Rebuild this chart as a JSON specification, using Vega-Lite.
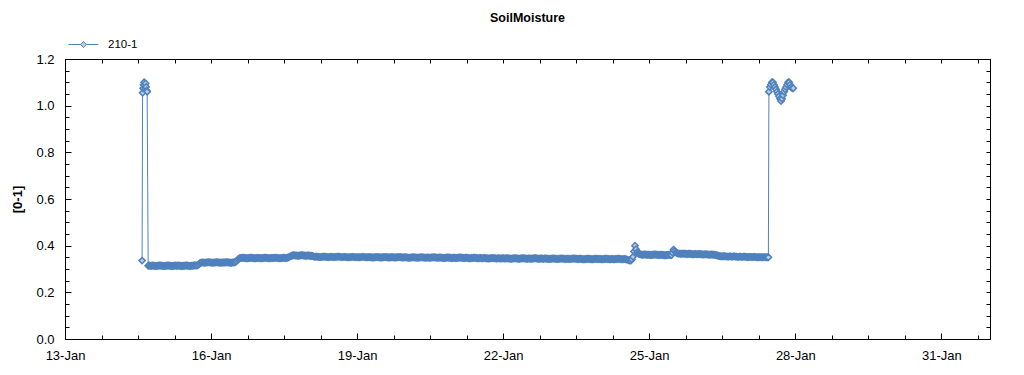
{
  "$schema": "https://vega.github.io/schema/vega-lite/v6.json",
  "width": 925,
  "height": 280,
  "autosize": {"type": "none"},
  "padding": {"left": 65, "top": 59, "right": 34, "bottom": 36},
  "background": "white",
  "title": {"text": "SoilMoisture", "font": "Liberation Sans", "fontSize": 12.5, "fontWeight": "bold", "color": "#000", "anchor": "middle", "frame": "group", "offset": 5},
  "config": {
    "view": {"stroke": "#000", "strokeWidth": 1},
    "axis": {"domainColor": "#000", "tickColor": "#000", "grid": false, "labelFont": "Liberation Sans", "labelFontSize": 13, "labelColor": "#000", "labelOverlap": false, "labelFlush": false}
  },
  "data": {"values": [
    {"t":"2020-01-14T14:00","v":0.336},
    {"t":"2020-01-14T14:15","v":1.055},{"t":"2020-01-14T14:30","v":1.075},{"t":"2020-01-14T14:45","v":1.09},{"t":"2020-01-14T15:00","v":1.10},{"t":"2020-01-14T15:15","v":1.085},{"t":"2020-01-14T15:30","v":1.07},{"t":"2020-01-14T15:45","v":1.095},{"t":"2020-01-14T16:00","v":1.08},{"t":"2020-01-14T16:15","v":1.065},{"t":"2020-01-14T16:30","v":1.06},
    {"t":"2020-01-14T17:00","v":0.314},{"t":"2020-01-14T17:30","v":0.315},{"t":"2020-01-14T18:00","v":0.313},{"t":"2020-01-14T18:30","v":0.314},{"t":"2020-01-14T19:00","v":0.315},{"t":"2020-01-14T19:30","v":0.314},{"t":"2020-01-14T20:00","v":0.314},{"t":"2020-01-14T20:30","v":0.313},{"t":"2020-01-14T21:00","v":0.313},{"t":"2020-01-14T21:30","v":0.314},{"t":"2020-01-14T22:00","v":0.314},{"t":"2020-01-14T22:30","v":0.315},{"t":"2020-01-14T23:00","v":0.315},{"t":"2020-01-14T23:30","v":0.314},
    {"t":"2020-01-15T00:00","v":0.314},{"t":"2020-01-15T00:30","v":0.313},{"t":"2020-01-15T01:00","v":0.313},{"t":"2020-01-15T01:30","v":0.314},{"t":"2020-01-15T02:00","v":0.314},{"t":"2020-01-15T02:30","v":0.315},{"t":"2020-01-15T03:00","v":0.315},{"t":"2020-01-15T03:30","v":0.314},{"t":"2020-01-15T04:00","v":0.314},{"t":"2020-01-15T04:30","v":0.313},{"t":"2020-01-15T05:00","v":0.313},{"t":"2020-01-15T05:30","v":0.314},{"t":"2020-01-15T06:00","v":0.314},{"t":"2020-01-15T06:30","v":0.315},{"t":"2020-01-15T07:00","v":0.314},{"t":"2020-01-15T07:30","v":0.314},{"t":"2020-01-15T08:00","v":0.315},{"t":"2020-01-15T08:30","v":0.314},{"t":"2020-01-15T09:00","v":0.314},{"t":"2020-01-15T09:30","v":0.313},{"t":"2020-01-15T10:00","v":0.313},{"t":"2020-01-15T10:30","v":0.314},{"t":"2020-01-15T11:00","v":0.314},{"t":"2020-01-15T11:30","v":0.315},{"t":"2020-01-15T12:00","v":0.315},{"t":"2020-01-15T12:30","v":0.314},{"t":"2020-01-15T13:00","v":0.314},{"t":"2020-01-15T13:30","v":0.313},{"t":"2020-01-15T14:00","v":0.313},{"t":"2020-01-15T14:30","v":0.314},{"t":"2020-01-15T15:00","v":0.314},{"t":"2020-01-15T15:30","v":0.315},{"t":"2020-01-15T16:00","v":0.316},{"t":"2020-01-15T16:30","v":0.315},{"t":"2020-01-15T17:00","v":0.315},{"t":"2020-01-15T17:30","v":0.316},{"t":"2020-01-15T18:00","v":0.320},{"t":"2020-01-15T18:30","v":0.325},{"t":"2020-01-15T19:00","v":0.327},{"t":"2020-01-15T19:30","v":0.328},{"t":"2020-01-15T20:00","v":0.328},{"t":"2020-01-15T20:30","v":0.327},{"t":"2020-01-15T21:00","v":0.327},{"t":"2020-01-15T21:30","v":0.328},{"t":"2020-01-15T22:00","v":0.328},{"t":"2020-01-15T22:30","v":0.329},{"t":"2020-01-15T23:00","v":0.329},{"t":"2020-01-15T23:30","v":0.328},
    {"t":"2020-01-16T00:00","v":0.328},{"t":"2020-01-16T00:30","v":0.327},{"t":"2020-01-16T01:00","v":0.327},{"t":"2020-01-16T01:30","v":0.328},{"t":"2020-01-16T02:00","v":0.328},{"t":"2020-01-16T02:30","v":0.329},{"t":"2020-01-16T03:00","v":0.329},{"t":"2020-01-16T03:30","v":0.328},{"t":"2020-01-16T04:00","v":0.328},{"t":"2020-01-16T04:30","v":0.327},{"t":"2020-01-16T05:00","v":0.327},{"t":"2020-01-16T05:30","v":0.328},{"t":"2020-01-16T06:00","v":0.328},{"t":"2020-01-16T06:30","v":0.328},{"t":"2020-01-16T07:00","v":0.328},{"t":"2020-01-16T07:30","v":0.329},{"t":"2020-01-16T08:00","v":0.329},{"t":"2020-01-16T08:30","v":0.328},{"t":"2020-01-16T09:00","v":0.328},{"t":"2020-01-16T09:30","v":0.327},{"t":"2020-01-16T10:00","v":0.327},{"t":"2020-01-16T10:30","v":0.328},{"t":"2020-01-16T11:00","v":0.328},{"t":"2020-01-16T11:30","v":0.329},{"t":"2020-01-16T12:00","v":0.330},{"t":"2020-01-16T12:30","v":0.333},{"t":"2020-01-16T13:00","v":0.338},{"t":"2020-01-16T13:30","v":0.343},{"t":"2020-01-16T14:00","v":0.346},{"t":"2020-01-16T14:30","v":0.347},{"t":"2020-01-16T15:00","v":0.347},{"t":"2020-01-16T15:30","v":0.348},{"t":"2020-01-16T16:00","v":0.348},{"t":"2020-01-16T16:30","v":0.347},{"t":"2020-01-16T17:00","v":0.347},{"t":"2020-01-16T17:30","v":0.346},{"t":"2020-01-16T18:00","v":0.346},{"t":"2020-01-16T18:30","v":0.347},{"t":"2020-01-16T19:00","v":0.347},{"t":"2020-01-16T19:30","v":0.348},{"t":"2020-01-16T20:00","v":0.348},{"t":"2020-01-16T20:30","v":0.347},{"t":"2020-01-16T21:00","v":0.347},{"t":"2020-01-16T21:30","v":0.346},{"t":"2020-01-16T22:00","v":0.346},{"t":"2020-01-16T22:30","v":0.347},{"t":"2020-01-16T23:00","v":0.347},{"t":"2020-01-16T23:30","v":0.347},
    {"t":"2020-01-17T00:00","v":0.347},{"t":"2020-01-17T00:30","v":0.346},{"t":"2020-01-17T01:00","v":0.346},{"t":"2020-01-17T01:30","v":0.347},{"t":"2020-01-17T02:00","v":0.347},{"t":"2020-01-17T02:30","v":0.348},{"t":"2020-01-17T03:00","v":0.348},{"t":"2020-01-17T03:30","v":0.347},{"t":"2020-01-17T04:00","v":0.347},{"t":"2020-01-17T04:30","v":0.346},{"t":"2020-01-17T05:00","v":0.346},{"t":"2020-01-17T05:30","v":0.347},{"t":"2020-01-17T06:00","v":0.347},{"t":"2020-01-17T06:30","v":0.347},{"t":"2020-01-17T07:00","v":0.347},{"t":"2020-01-17T07:30","v":0.348},{"t":"2020-01-17T08:00","v":0.348},{"t":"2020-01-17T08:30","v":0.347},{"t":"2020-01-17T09:00","v":0.347},{"t":"2020-01-17T09:30","v":0.346},{"t":"2020-01-17T10:00","v":0.346},{"t":"2020-01-17T10:30","v":0.347},{"t":"2020-01-17T11:00","v":0.347},{"t":"2020-01-17T11:30","v":0.348},{"t":"2020-01-17T12:00","v":0.348},{"t":"2020-01-17T12:30","v":0.347},{"t":"2020-01-17T13:00","v":0.347},{"t":"2020-01-17T13:30","v":0.348},{"t":"2020-01-17T14:00","v":0.349},{"t":"2020-01-17T14:30","v":0.351},{"t":"2020-01-17T15:00","v":0.354},{"t":"2020-01-17T15:30","v":0.356},{"t":"2020-01-17T16:00","v":0.358},{"t":"2020-01-17T16:30","v":0.359},{"t":"2020-01-17T17:00","v":0.359},{"t":"2020-01-17T17:30","v":0.358},{"t":"2020-01-17T18:00","v":0.358},{"t":"2020-01-17T18:30","v":0.357},{"t":"2020-01-17T19:00","v":0.357},{"t":"2020-01-17T19:30","v":0.358},{"t":"2020-01-17T20:00","v":0.358},{"t":"2020-01-17T20:30","v":0.359},{"t":"2020-01-17T21:00","v":0.359},{"t":"2020-01-17T21:30","v":0.358},{"t":"2020-01-17T22:00","v":0.358},{"t":"2020-01-17T22:30","v":0.357},{"t":"2020-01-17T23:00","v":0.357},{"t":"2020-01-17T23:30","v":0.358},
    {"t":"2020-01-18T00:00","v":0.358},{"t":"2020-01-18T00:30","v":0.357},{"t":"2020-01-18T01:00","v":0.357},{"t":"2020-01-18T01:30","v":0.356},{"t":"2020-01-18T02:00","v":0.356},{"t":"2020-01-18T02:30","v":0.354},{"t":"2020-01-18T03:00","v":0.352},{"t":"2020-01-18T03:30","v":0.353},{"t":"2020-01-18T04:00","v":0.353},{"t":"2020-01-18T04:30","v":0.352},{"t":"2020-01-18T05:00","v":0.352},{"t":"2020-01-18T05:30","v":0.351},{"t":"2020-01-18T06:00","v":0.351},{"t":"2020-01-18T06:30","v":0.352},{"t":"2020-01-18T07:00","v":0.352},{"t":"2020-01-18T07:30","v":0.353},{"t":"2020-01-18T08:00","v":0.353},{"t":"2020-01-18T08:30","v":0.352},{"t":"2020-01-18T09:00","v":0.352},{"t":"2020-01-18T09:30","v":0.351},{"t":"2020-01-18T10:00","v":0.351},{"t":"2020-01-18T10:30","v":0.352},{"t":"2020-01-18T11:00","v":0.352},{"t":"2020-01-18T11:30","v":0.352},{"t":"2020-01-18T12:00","v":0.352},{"t":"2020-01-18T12:30","v":0.351},{"t":"2020-01-18T13:00","v":0.351},{"t":"2020-01-18T13:30","v":0.352},{"t":"2020-01-18T14:00","v":0.352},{"t":"2020-01-18T14:30","v":0.353},{"t":"2020-01-18T15:00","v":0.353},{"t":"2020-01-18T15:30","v":0.352},{"t":"2020-01-18T16:00","v":0.352},{"t":"2020-01-18T16:30","v":0.351},{"t":"2020-01-18T17:00","v":0.351},{"t":"2020-01-18T17:30","v":0.352},{"t":"2020-01-18T18:00","v":0.352},{"t":"2020-01-18T18:30","v":0.351},{"t":"2020-01-18T19:00","v":0.351},{"t":"2020-01-18T19:30","v":0.350},{"t":"2020-01-18T20:00","v":0.350},{"t":"2020-01-18T20:30","v":0.351},{"t":"2020-01-18T21:00","v":0.351},{"t":"2020-01-18T21:30","v":0.352},{"t":"2020-01-18T22:00","v":0.352},{"t":"2020-01-18T22:30","v":0.351},{"t":"2020-01-18T23:00","v":0.351},{"t":"2020-01-18T23:30","v":0.351},
    {"t":"2020-01-19T00:00","v":0.351},{"t":"2020-01-19T00:30","v":0.350},{"t":"2020-01-19T01:00","v":0.350},{"t":"2020-01-19T01:30","v":0.351},{"t":"2020-01-19T02:00","v":0.351},{"t":"2020-01-19T02:30","v":0.352},{"t":"2020-01-19T03:00","v":0.352},{"t":"2020-01-19T03:30","v":0.351},{"t":"2020-01-19T04:00","v":0.351},{"t":"2020-01-19T04:30","v":0.350},{"t":"2020-01-19T05:00","v":0.350},{"t":"2020-01-19T05:30","v":0.351},{"t":"2020-01-19T06:00","v":0.351},{"t":"2020-01-19T06:30","v":0.350},{"t":"2020-01-19T07:00","v":0.350},{"t":"2020-01-19T07:30","v":0.349},{"t":"2020-01-19T08:00","v":0.349},{"t":"2020-01-19T08:30","v":0.350},{"t":"2020-01-19T09:00","v":0.350},{"t":"2020-01-19T09:30","v":0.351},{"t":"2020-01-19T10:00","v":0.351},{"t":"2020-01-19T10:30","v":0.350},{"t":"2020-01-19T11:00","v":0.350},{"t":"2020-01-19T11:30","v":0.349},{"t":"2020-01-19T12:00","v":0.349},{"t":"2020-01-19T12:30","v":0.350},{"t":"2020-01-19T13:00","v":0.350},{"t":"2020-01-19T13:30","v":0.351},{"t":"2020-01-19T14:00","v":0.351},{"t":"2020-01-19T14:30","v":0.350},{"t":"2020-01-19T15:00","v":0.350},{"t":"2020-01-19T15:30","v":0.349},{"t":"2020-01-19T16:00","v":0.349},{"t":"2020-01-19T16:30","v":0.350},{"t":"2020-01-19T17:00","v":0.350},{"t":"2020-01-19T17:30","v":0.350},{"t":"2020-01-19T18:00","v":0.350},{"t":"2020-01-19T18:30","v":0.349},{"t":"2020-01-19T19:00","v":0.349},{"t":"2020-01-19T19:30","v":0.350},{"t":"2020-01-19T20:00","v":0.350},{"t":"2020-01-19T20:30","v":0.351},{"t":"2020-01-19T21:00","v":0.351},{"t":"2020-01-19T21:30","v":0.350},{"t":"2020-01-19T22:00","v":0.350},{"t":"2020-01-19T22:30","v":0.349},{"t":"2020-01-19T23:00","v":0.349},{"t":"2020-01-19T23:30","v":0.350},
    {"t":"2020-01-20T00:00","v":0.350},{"t":"2020-01-20T00:30","v":0.349},{"t":"2020-01-20T01:00","v":0.349},{"t":"2020-01-20T01:30","v":0.348},{"t":"2020-01-20T02:00","v":0.348},{"t":"2020-01-20T02:30","v":0.349},{"t":"2020-01-20T03:00","v":0.349},{"t":"2020-01-20T03:30","v":0.350},{"t":"2020-01-20T04:00","v":0.350},{"t":"2020-01-20T04:30","v":0.349},{"t":"2020-01-20T05:00","v":0.349},{"t":"2020-01-20T05:30","v":0.348},{"t":"2020-01-20T06:00","v":0.348},{"t":"2020-01-20T06:30","v":0.349},{"t":"2020-01-20T07:00","v":0.349},{"t":"2020-01-20T07:30","v":0.350},{"t":"2020-01-20T08:00","v":0.350},{"t":"2020-01-20T08:30","v":0.349},{"t":"2020-01-20T09:00","v":0.349},{"t":"2020-01-20T09:30","v":0.348},{"t":"2020-01-20T10:00","v":0.348},{"t":"2020-01-20T10:30","v":0.349},{"t":"2020-01-20T11:00","v":0.349},{"t":"2020-01-20T11:30","v":0.348},{"t":"2020-01-20T12:00","v":0.348},{"t":"2020-01-20T12:30","v":0.349},{"t":"2020-01-20T13:00","v":0.349},{"t":"2020-01-20T13:30","v":0.350},{"t":"2020-01-20T14:00","v":0.350},{"t":"2020-01-20T14:30","v":0.349},{"t":"2020-01-20T15:00","v":0.349},{"t":"2020-01-20T15:30","v":0.348},{"t":"2020-01-20T16:00","v":0.348},{"t":"2020-01-20T16:30","v":0.349},{"t":"2020-01-20T17:00","v":0.349},{"t":"2020-01-20T17:30","v":0.348},{"t":"2020-01-20T18:00","v":0.348},{"t":"2020-01-20T18:30","v":0.347},{"t":"2020-01-20T19:00","v":0.347},{"t":"2020-01-20T19:30","v":0.348},{"t":"2020-01-20T20:00","v":0.348},{"t":"2020-01-20T20:30","v":0.349},{"t":"2020-01-20T21:00","v":0.349},{"t":"2020-01-20T21:30","v":0.348},{"t":"2020-01-20T22:00","v":0.348},{"t":"2020-01-20T22:30","v":0.347},{"t":"2020-01-20T23:00","v":0.347},{"t":"2020-01-20T23:30","v":0.348},
    {"t":"2020-01-21T00:00","v":0.348},{"t":"2020-01-21T00:30","v":0.347},{"t":"2020-01-21T01:00","v":0.347},{"t":"2020-01-21T01:30","v":0.348},{"t":"2020-01-21T02:00","v":0.348},{"t":"2020-01-21T02:30","v":0.349},{"t":"2020-01-21T03:00","v":0.349},{"t":"2020-01-21T03:30","v":0.348},{"t":"2020-01-21T04:00","v":0.348},{"t":"2020-01-21T04:30","v":0.347},{"t":"2020-01-21T05:00","v":0.347},{"t":"2020-01-21T05:30","v":0.348},{"t":"2020-01-21T06:00","v":0.348},{"t":"2020-01-21T06:30","v":0.347},{"t":"2020-01-21T07:00","v":0.347},{"t":"2020-01-21T07:30","v":0.346},{"t":"2020-01-21T08:00","v":0.346},{"t":"2020-01-21T08:30","v":0.347},{"t":"2020-01-21T09:00","v":0.347},{"t":"2020-01-21T09:30","v":0.348},{"t":"2020-01-21T10:00","v":0.348},{"t":"2020-01-21T10:30","v":0.347},{"t":"2020-01-21T11:00","v":0.347},{"t":"2020-01-21T11:30","v":0.346},{"t":"2020-01-21T12:00","v":0.346},{"t":"2020-01-21T12:30","v":0.347},{"t":"2020-01-21T13:00","v":0.347},{"t":"2020-01-21T13:30","v":0.346},{"t":"2020-01-21T14:00","v":0.346},{"t":"2020-01-21T14:30","v":0.347},{"t":"2020-01-21T15:00","v":0.347},{"t":"2020-01-21T15:30","v":0.346},{"t":"2020-01-21T16:00","v":0.346},{"t":"2020-01-21T16:30","v":0.345},{"t":"2020-01-21T17:00","v":0.345},{"t":"2020-01-21T17:30","v":0.346},{"t":"2020-01-21T18:00","v":0.346},{"t":"2020-01-21T18:30","v":0.347},{"t":"2020-01-21T19:00","v":0.347},{"t":"2020-01-21T19:30","v":0.346},{"t":"2020-01-21T20:00","v":0.346},{"t":"2020-01-21T20:30","v":0.345},{"t":"2020-01-21T21:00","v":0.345},{"t":"2020-01-21T21:30","v":0.346},{"t":"2020-01-21T22:00","v":0.346},{"t":"2020-01-21T22:30","v":0.345},{"t":"2020-01-21T23:00","v":0.345},{"t":"2020-01-21T23:30","v":0.346},
    {"t":"2020-01-22T00:00","v":0.346},{"t":"2020-01-22T00:30","v":0.345},{"t":"2020-01-22T01:00","v":0.345},{"t":"2020-01-22T01:30","v":0.346},{"t":"2020-01-22T02:00","v":0.346},{"t":"2020-01-22T02:30","v":0.345},{"t":"2020-01-22T03:00","v":0.345},{"t":"2020-01-22T03:30","v":0.344},{"t":"2020-01-22T04:00","v":0.344},{"t":"2020-01-22T04:30","v":0.345},{"t":"2020-01-22T05:00","v":0.345},{"t":"2020-01-22T05:30","v":0.346},{"t":"2020-01-22T06:00","v":0.346},{"t":"2020-01-22T06:30","v":0.345},{"t":"2020-01-22T07:00","v":0.345},{"t":"2020-01-22T07:30","v":0.344},{"t":"2020-01-22T08:00","v":0.344},{"t":"2020-01-22T08:30","v":0.345},{"t":"2020-01-22T09:00","v":0.345},{"t":"2020-01-22T09:30","v":0.346},{"t":"2020-01-22T10:00","v":0.346},{"t":"2020-01-22T10:30","v":0.345},{"t":"2020-01-22T11:00","v":0.345},{"t":"2020-01-22T11:30","v":0.344},{"t":"2020-01-22T12:00","v":0.344},{"t":"2020-01-22T12:30","v":0.345},{"t":"2020-01-22T13:00","v":0.345},{"t":"2020-01-22T13:30","v":0.344},{"t":"2020-01-22T14:00","v":0.344},{"t":"2020-01-22T14:30","v":0.345},{"t":"2020-01-22T15:00","v":0.345},{"t":"2020-01-22T15:30","v":0.346},{"t":"2020-01-22T16:00","v":0.346},{"t":"2020-01-22T16:30","v":0.345},{"t":"2020-01-22T17:00","v":0.345},{"t":"2020-01-22T17:30","v":0.344},{"t":"2020-01-22T18:00","v":0.344},{"t":"2020-01-22T18:30","v":0.345},{"t":"2020-01-22T19:00","v":0.345},{"t":"2020-01-22T19:30","v":0.344},{"t":"2020-01-22T20:00","v":0.344},{"t":"2020-01-22T20:30","v":0.345},{"t":"2020-01-22T21:00","v":0.345},{"t":"2020-01-22T21:30","v":0.344},{"t":"2020-01-22T22:00","v":0.344},{"t":"2020-01-22T22:30","v":0.343},{"t":"2020-01-22T23:00","v":0.343},{"t":"2020-01-22T23:30","v":0.344},
    {"t":"2020-01-23T00:00","v":0.344},{"t":"2020-01-23T00:30","v":0.345},{"t":"2020-01-23T01:00","v":0.345},{"t":"2020-01-23T01:30","v":0.344},{"t":"2020-01-23T02:00","v":0.344},{"t":"2020-01-23T02:30","v":0.343},{"t":"2020-01-23T03:00","v":0.343},{"t":"2020-01-23T03:30","v":0.344},{"t":"2020-01-23T04:00","v":0.344},{"t":"2020-01-23T04:30","v":0.345},{"t":"2020-01-23T05:00","v":0.345},{"t":"2020-01-23T05:30","v":0.344},{"t":"2020-01-23T06:00","v":0.344},{"t":"2020-01-23T06:30","v":0.343},{"t":"2020-01-23T07:00","v":0.343},{"t":"2020-01-23T07:30","v":0.344},{"t":"2020-01-23T08:00","v":0.344},{"t":"2020-01-23T08:30","v":0.343},{"t":"2020-01-23T09:00","v":0.343},{"t":"2020-01-23T09:30","v":0.344},{"t":"2020-01-23T10:00","v":0.344},{"t":"2020-01-23T10:30","v":0.345},{"t":"2020-01-23T11:00","v":0.345},{"t":"2020-01-23T11:30","v":0.344},{"t":"2020-01-23T12:00","v":0.344},{"t":"2020-01-23T12:30","v":0.343},{"t":"2020-01-23T13:00","v":0.343},{"t":"2020-01-23T13:30","v":0.344},{"t":"2020-01-23T14:00","v":0.344},{"t":"2020-01-23T14:30","v":0.343},{"t":"2020-01-23T15:00","v":0.343},{"t":"2020-01-23T15:30","v":0.342},{"t":"2020-01-23T16:00","v":0.342},{"t":"2020-01-23T16:30","v":0.343},{"t":"2020-01-23T17:00","v":0.343},{"t":"2020-01-23T17:30","v":0.344},{"t":"2020-01-23T18:00","v":0.344},{"t":"2020-01-23T18:30","v":0.343},{"t":"2020-01-23T19:00","v":0.343},{"t":"2020-01-23T19:30","v":0.342},{"t":"2020-01-23T20:00","v":0.342},{"t":"2020-01-23T20:30","v":0.343},{"t":"2020-01-23T21:00","v":0.343},{"t":"2020-01-23T21:30","v":0.344},{"t":"2020-01-23T22:00","v":0.344},{"t":"2020-01-23T22:30","v":0.343},{"t":"2020-01-23T23:00","v":0.343},{"t":"2020-01-23T23:30","v":0.343},
    {"t":"2020-01-24T00:00","v":0.343},{"t":"2020-01-24T00:30","v":0.342},{"t":"2020-01-24T01:00","v":0.342},{"t":"2020-01-24T01:30","v":0.343},{"t":"2020-01-24T02:00","v":0.343},{"t":"2020-01-24T02:30","v":0.344},{"t":"2020-01-24T03:00","v":0.344},{"t":"2020-01-24T03:30","v":0.343},{"t":"2020-01-24T04:00","v":0.343},{"t":"2020-01-24T04:30","v":0.342},{"t":"2020-01-24T05:00","v":0.342},{"t":"2020-01-24T05:30","v":0.343},{"t":"2020-01-24T06:00","v":0.343},{"t":"2020-01-24T06:30","v":0.342},{"t":"2020-01-24T07:00","v":0.342},{"t":"2020-01-24T07:30","v":0.343},{"t":"2020-01-24T08:00","v":0.343},{"t":"2020-01-24T08:30","v":0.344},{"t":"2020-01-24T09:00","v":0.344},{"t":"2020-01-24T09:30","v":0.343},{"t":"2020-01-24T10:00","v":0.343},{"t":"2020-01-24T10:30","v":0.342},{"t":"2020-01-24T11:00","v":0.342},{"t":"2020-01-24T11:30","v":0.343},{"t":"2020-01-24T12:00","v":0.343},{"t":"2020-01-24T12:30","v":0.342},{"t":"2020-01-24T13:00","v":0.341},{"t":"2020-01-24T13:30","v":0.339},{"t":"2020-01-24T14:00","v":0.337},{"t":"2020-01-24T14:30","v":0.336},{"t":"2020-01-24T15:00","v":0.336},{"t":"2020-01-24T15:30","v":0.342},{"t":"2020-01-24T16:00","v":0.352},{"t":"2020-01-24T16:30","v":0.375},{"t":"2020-01-24T17:00","v":0.400},{"t":"2020-01-24T17:30","v":0.385},{"t":"2020-01-24T18:00","v":0.372},{"t":"2020-01-24T18:30","v":0.367},{"t":"2020-01-24T19:00","v":0.364},{"t":"2020-01-24T19:30","v":0.363},{"t":"2020-01-24T20:00","v":0.362},{"t":"2020-01-24T20:30","v":0.361},{"t":"2020-01-24T21:00","v":0.361},{"t":"2020-01-24T21:30","v":0.362},{"t":"2020-01-24T22:00","v":0.362},{"t":"2020-01-24T22:30","v":0.361},{"t":"2020-01-24T23:00","v":0.361},{"t":"2020-01-24T23:30","v":0.361},
    {"t":"2020-01-25T00:00","v":0.361},{"t":"2020-01-25T00:30","v":0.360},{"t":"2020-01-25T01:00","v":0.360},{"t":"2020-01-25T01:30","v":0.361},{"t":"2020-01-25T02:00","v":0.361},{"t":"2020-01-25T02:30","v":0.362},{"t":"2020-01-25T03:00","v":0.362},{"t":"2020-01-25T03:30","v":0.361},{"t":"2020-01-25T04:00","v":0.361},{"t":"2020-01-25T04:30","v":0.360},{"t":"2020-01-25T05:00","v":0.360},{"t":"2020-01-25T05:30","v":0.361},{"t":"2020-01-25T06:00","v":0.361},{"t":"2020-01-25T06:30","v":0.360},{"t":"2020-01-25T07:00","v":0.360},{"t":"2020-01-25T07:30","v":0.359},{"t":"2020-01-25T08:00","v":0.359},{"t":"2020-01-25T08:30","v":0.360},{"t":"2020-01-25T09:00","v":0.360},{"t":"2020-01-25T09:30","v":0.361},{"t":"2020-01-25T10:00","v":0.361},{"t":"2020-01-25T10:30","v":0.360},{"t":"2020-01-25T11:00","v":0.360},{"t":"2020-01-25T11:30","v":0.370},{"t":"2020-01-25T12:00","v":0.383},{"t":"2020-01-25T12:30","v":0.378},{"t":"2020-01-25T13:00","v":0.372},{"t":"2020-01-25T13:30","v":0.369},{"t":"2020-01-25T14:00","v":0.367},{"t":"2020-01-25T14:30","v":0.366},{"t":"2020-01-25T15:00","v":0.366},{"t":"2020-01-25T15:30","v":0.365},{"t":"2020-01-25T16:00","v":0.365},{"t":"2020-01-25T16:30","v":0.366},{"t":"2020-01-25T17:00","v":0.366},{"t":"2020-01-25T17:30","v":0.365},{"t":"2020-01-25T18:00","v":0.365},{"t":"2020-01-25T18:30","v":0.364},{"t":"2020-01-25T19:00","v":0.364},{"t":"2020-01-25T19:30","v":0.365},{"t":"2020-01-25T20:00","v":0.365},{"t":"2020-01-25T20:30","v":0.364},{"t":"2020-01-25T21:00","v":0.364},{"t":"2020-01-25T21:30","v":0.363},{"t":"2020-01-25T22:00","v":0.363},{"t":"2020-01-25T22:30","v":0.364},{"t":"2020-01-25T23:00","v":0.364},{"t":"2020-01-25T23:30","v":0.363},
    {"t":"2020-01-26T00:00","v":0.363},{"t":"2020-01-26T00:30","v":0.364},{"t":"2020-01-26T01:00","v":0.364},{"t":"2020-01-26T01:30","v":0.363},{"t":"2020-01-26T02:00","v":0.363},{"t":"2020-01-26T02:30","v":0.362},{"t":"2020-01-26T03:00","v":0.362},{"t":"2020-01-26T03:30","v":0.363},{"t":"2020-01-26T04:00","v":0.363},{"t":"2020-01-26T04:30","v":0.362},{"t":"2020-01-26T05:00","v":0.362},{"t":"2020-01-26T05:30","v":0.361},{"t":"2020-01-26T06:00","v":0.361},{"t":"2020-01-26T06:30","v":0.362},{"t":"2020-01-26T07:00","v":0.362},{"t":"2020-01-26T07:30","v":0.361},{"t":"2020-01-26T08:00","v":0.361},{"t":"2020-01-26T08:30","v":0.360},{"t":"2020-01-26T09:00","v":0.360},{"t":"2020-01-26T09:30","v":0.358},{"t":"2020-01-26T10:00","v":0.357},{"t":"2020-01-26T10:30","v":0.356},{"t":"2020-01-26T11:00","v":0.355},{"t":"2020-01-26T11:30","v":0.354},{"t":"2020-01-26T12:00","v":0.354},{"t":"2020-01-26T12:30","v":0.355},{"t":"2020-01-26T13:00","v":0.355},{"t":"2020-01-26T13:30","v":0.354},{"t":"2020-01-26T14:00","v":0.354},{"t":"2020-01-26T14:30","v":0.353},{"t":"2020-01-26T15:00","v":0.353},{"t":"2020-01-26T15:30","v":0.354},{"t":"2020-01-26T16:00","v":0.354},{"t":"2020-01-26T16:30","v":0.353},{"t":"2020-01-26T17:00","v":0.353},{"t":"2020-01-26T17:30","v":0.354},{"t":"2020-01-26T18:00","v":0.354},{"t":"2020-01-26T18:30","v":0.353},{"t":"2020-01-26T19:00","v":0.353},{"t":"2020-01-26T19:30","v":0.352},{"t":"2020-01-26T20:00","v":0.352},{"t":"2020-01-26T20:30","v":0.353},{"t":"2020-01-26T21:00","v":0.353},{"t":"2020-01-26T21:30","v":0.352},{"t":"2020-01-26T22:00","v":0.352},{"t":"2020-01-26T22:30","v":0.353},{"t":"2020-01-26T23:00","v":0.353},{"t":"2020-01-26T23:30","v":0.352},
    {"t":"2020-01-27T00:00","v":0.352},{"t":"2020-01-27T00:30","v":0.351},{"t":"2020-01-27T01:00","v":0.351},{"t":"2020-01-27T01:30","v":0.352},{"t":"2020-01-27T02:00","v":0.352},{"t":"2020-01-27T02:30","v":0.351},{"t":"2020-01-27T03:00","v":0.351},{"t":"2020-01-27T03:30","v":0.352},{"t":"2020-01-27T04:00","v":0.352},{"t":"2020-01-27T04:30","v":0.351},{"t":"2020-01-27T05:00","v":0.351},{"t":"2020-01-27T05:30","v":0.350},{"t":"2020-01-27T06:00","v":0.350},{"t":"2020-01-27T06:30","v":0.351},{"t":"2020-01-27T07:00","v":0.351},{"t":"2020-01-27T07:30","v":0.350},{"t":"2020-01-27T08:00","v":0.350},{"t":"2020-01-27T08:30","v":0.351},{"t":"2020-01-27T09:00","v":0.351},{"t":"2020-01-27T09:30","v":0.350},{"t":"2020-01-27T10:00","v":0.350},{"t":"2020-01-27T10:30","v":0.350},{"t":"2020-01-27T10:45","v":0.350},
    {"t":"2020-01-27T11:00","v":1.06},{"t":"2020-01-27T11:30","v":1.08},{"t":"2020-01-27T12:00","v":1.09},{"t":"2020-01-27T12:30","v":1.10},{"t":"2020-01-27T13:00","v":1.10},{"t":"2020-01-27T13:30","v":1.09},{"t":"2020-01-27T14:00","v":1.08},{"t":"2020-01-27T14:30","v":1.07},{"t":"2020-01-27T15:00","v":1.06},{"t":"2020-01-27T15:30","v":1.05},{"t":"2020-01-27T16:00","v":1.04},{"t":"2020-01-27T16:30","v":1.03},{"t":"2020-01-27T17:00","v":1.02},{"t":"2020-01-27T17:30","v":1.03},{"t":"2020-01-27T18:00","v":1.045},{"t":"2020-01-27T18:30","v":1.06},{"t":"2020-01-27T19:00","v":1.07},{"t":"2020-01-27T19:30","v":1.08},{"t":"2020-01-27T20:00","v":1.09},{"t":"2020-01-27T20:30","v":1.10},{"t":"2020-01-27T21:00","v":1.10},{"t":"2020-01-27T21:30","v":1.09},{"t":"2020-01-27T22:00","v":1.08},{"t":"2020-01-27T22:30","v":1.075},{"t":"2020-01-27T23:00","v":1.075}
  ]},
  "layer": [
    {
      "mark": {"type": "line", "strokeWidth": 1, "interpolate": "linear"},
      "encoding": {
        "x": {"field": "t", "type": "temporal",
          "scale": {"domain": [{"year": 2020, "month": "jan", "date": 13}, {"year": 2020, "month": "feb", "date": 1}]},
          "axis": {"orient": "bottom", "title": null,
            "values": [
              {"year":2020,"month":"jan","date":13,"hours":0},{"year":2020,"month":"jan","date":13,"hours":18},{"year":2020,"month":"jan","date":14,"hours":12},{"year":2020,"month":"jan","date":15,"hours":6},
              {"year":2020,"month":"jan","date":16,"hours":0},{"year":2020,"month":"jan","date":16,"hours":18},{"year":2020,"month":"jan","date":17,"hours":12},{"year":2020,"month":"jan","date":18,"hours":6},
              {"year":2020,"month":"jan","date":19,"hours":0},{"year":2020,"month":"jan","date":19,"hours":18},{"year":2020,"month":"jan","date":20,"hours":12},{"year":2020,"month":"jan","date":21,"hours":6},
              {"year":2020,"month":"jan","date":22,"hours":0},{"year":2020,"month":"jan","date":22,"hours":18},{"year":2020,"month":"jan","date":23,"hours":12},{"year":2020,"month":"jan","date":24,"hours":6},
              {"year":2020,"month":"jan","date":25,"hours":0},{"year":2020,"month":"jan","date":25,"hours":18},{"year":2020,"month":"jan","date":26,"hours":12},{"year":2020,"month":"jan","date":27,"hours":6},
              {"year":2020,"month":"jan","date":28,"hours":0},{"year":2020,"month":"jan","date":28,"hours":18},{"year":2020,"month":"jan","date":29,"hours":12},{"year":2020,"month":"jan","date":30,"hours":6},
              {"year":2020,"month":"jan","date":31,"hours":0},{"year":2020,"month":"jan","date":31,"hours":18}
            ],
            "labelExpr": "hours(datum.value) == 0 ? timeFormat(datum.value, '%d-%b') : ''",
            "tickSize": {"condition": {"test": "hours(datum.value) == 0", "value": -6}, "value": -4},
            "labelPadding": 16
          }
        },
        "y": {"field": "v", "type": "quantitative",
          "scale": {"domain": [0, 1.2], "nice": false, "zero": true},
          "axis": {"orient": "left", "title": "[0-1]", "titleFont": "Liberation Sans", "titleFontSize": 13, "titleFontWeight": "bold", "titleColor": "#000", "titlePadding": 11,
            "values": [0,0.05,0.1,0.15,0.2,0.25,0.3,0.35,0.4,0.45,0.5,0.55,0.6,0.65,0.7,0.75,0.8,0.85,0.9,0.95,1.0,1.05,1.1,1.15,1.2],
            "labelExpr": "round(datum.value*100) % 20 == 0 ? format(datum.value, '.1f') : ''",
            "tickSize": {"condition": {"test": "round(datum.value*100) % 20 == 0", "value": -6}, "value": -4},
            "labelPadding": 17
          }
        },
        "color": {"datum": "210-1", "type": "nominal",
          "scale": {"range": ["#4F81BD"]},
          "legend": {"orient": "none", "legendX": 3, "legendY": -30, "title": null,
            "symbolType": "M-1,0H-0.2M0.2,0H1M-0.2,0L0,-0.2L0.2,0L0,0.2Z",
            "symbolSize": 900, "symbolStrokeWidth": 1, "symbolFillColor": "#B9CDE5", "symbolStrokeColor": "#4F81BD",
            "labelFont": "Liberation Sans", "labelFontSize": 11.5, "labelColor": "#000", "labelOffset": 9}
        }
      }
    },
    {
      "mark": {"type": "point", "shape": "diamond", "size": 40, "filled": true, "fill": "#B9CDE5", "stroke": "#4F81BD", "strokeWidth": 1.5, "opacity": 1},
      "encoding": {
        "x": {"field": "t", "type": "temporal",
          "axis": {"orient": "top", "title": null, "labels": false,
            "values": [
              {"year":2020,"month":"jan","date":13,"hours":0},{"year":2020,"month":"jan","date":13,"hours":18},{"year":2020,"month":"jan","date":14,"hours":12},{"year":2020,"month":"jan","date":15,"hours":6},
              {"year":2020,"month":"jan","date":16,"hours":0},{"year":2020,"month":"jan","date":16,"hours":18},{"year":2020,"month":"jan","date":17,"hours":12},{"year":2020,"month":"jan","date":18,"hours":6},
              {"year":2020,"month":"jan","date":19,"hours":0},{"year":2020,"month":"jan","date":19,"hours":18},{"year":2020,"month":"jan","date":20,"hours":12},{"year":2020,"month":"jan","date":21,"hours":6},
              {"year":2020,"month":"jan","date":22,"hours":0},{"year":2020,"month":"jan","date":22,"hours":18},{"year":2020,"month":"jan","date":23,"hours":12},{"year":2020,"month":"jan","date":24,"hours":6},
              {"year":2020,"month":"jan","date":25,"hours":0},{"year":2020,"month":"jan","date":25,"hours":18},{"year":2020,"month":"jan","date":26,"hours":12},{"year":2020,"month":"jan","date":27,"hours":6},
              {"year":2020,"month":"jan","date":28,"hours":0},{"year":2020,"month":"jan","date":28,"hours":18},{"year":2020,"month":"jan","date":29,"hours":12},{"year":2020,"month":"jan","date":30,"hours":6},
              {"year":2020,"month":"jan","date":31,"hours":0},{"year":2020,"month":"jan","date":31,"hours":18}
            ],
            "tickSize": -4
          }
        },
        "y": {"field": "v", "type": "quantitative",
          "axis": {"orient": "right", "title": null, "labels": false,
            "values": [0,0.05,0.1,0.15,0.2,0.25,0.3,0.35,0.4,0.45,0.5,0.55,0.6,0.65,0.7,0.75,0.8,0.85,0.9,0.95,1.0,1.05,1.1,1.15,1.2],
            "tickSize": -4
          }
        }
      }
    }
  ],
  "resolve": {"axis": {"x": "independent", "y": "independent"}}
}
